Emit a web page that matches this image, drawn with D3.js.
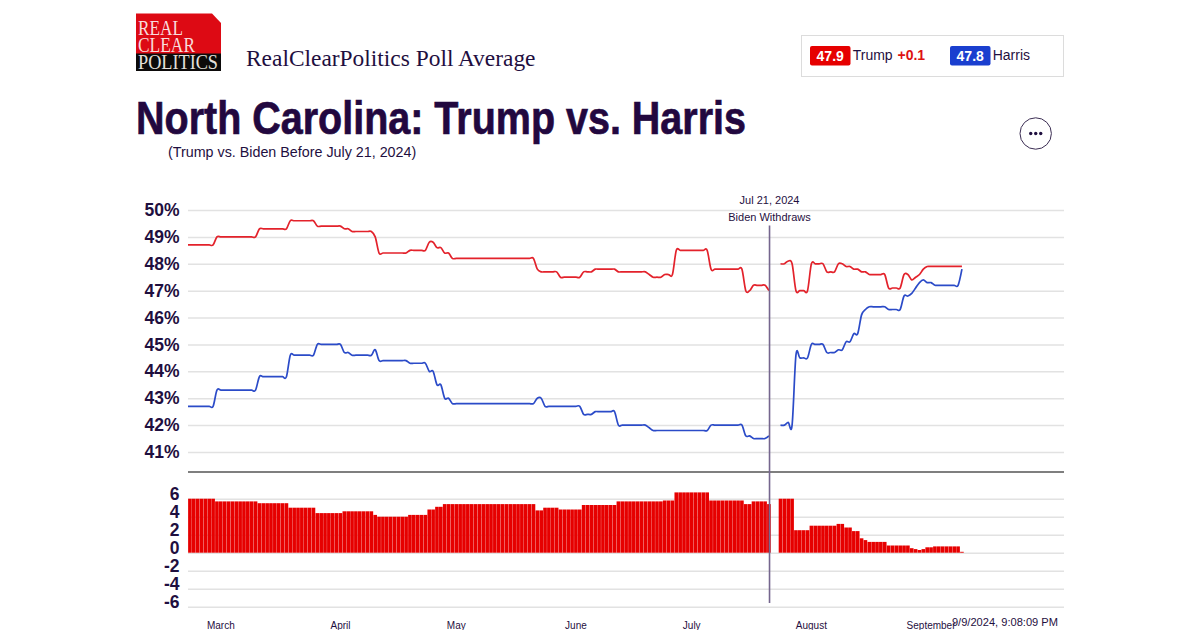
<!DOCTYPE html>
<html>
<head>
<meta charset="utf-8">
<script src="https://cdn.jsdelivr.net/npm/d3@7"></script>
<style>
html,body{margin:0;padding:0;background:#fff;overflow:hidden}
svg{display:block}
text{font-family:"Liberation Sans",Arial,sans-serif;fill:#1f0f3f}
</style>
</head>
<body>
<svg id="c" width="1200" height="630"></svg>
<script>
const firstDate = "2024-02-22";
const lastDate = "2024-09-09";
const monthTicks = ["2024-03-01","2024-04-01","2024-05-01","2024-06-01","2024-07-01","2024-08-01","2024-09-01"];
const pctTicks = [41,42,43,44,45,46,47,48,49,50];
const spreadTicks = [-6,-4,-2,0,2,4,6];

const trump = [
48.7,48.7,48.7,48.7,48.7,48.7,48.7,
49.0,49.0,49.0,49.0,49.0,49.0,49.0,49.0,49.0,49.0,49.0,
49.3,49.3,49.3,49.3,49.3,49.3,49.3,49.3,
49.6,49.6,49.6,49.6,49.6,49.6,49.6,
49.4,49.4,49.4,49.4,49.4,49.4,49.4,
49.3,49.3,
49.2,49.2,49.2,49.2,49.2,49.2,
49.0,
48.4,48.4,48.4,48.4,48.4,48.4,48.4,48.4,
48.5,48.5,48.5,48.5,48.5,
48.8,48.8,
48.6,48.6,
48.4,48.4,
48.2,48.2,48.2,48.2,48.2,48.2,48.2,48.2,48.2,48.2,48.2,48.2,48.2,48.2,48.2,48.2,48.2,48.2,48.2,48.2,48.2,48.2,
47.8,
47.7,47.7,47.7,47.7,47.7,
47.5,47.5,47.5,47.5,47.5,47.5,
47.7,47.7,47.7,
47.8,47.8,47.8,47.8,47.8,47.8,
47.7,47.7,47.7,47.7,47.7,47.7,47.7,47.7,
47.6,
47.5,47.5,47.5,
47.6,47.6,47.6,
48.5,48.5,48.5,48.5,48.5,48.5,48.5,48.5,48.5,
47.8,47.8,47.8,47.8,47.8,47.8,47.8,47.8,47.8,
47.0,47.0,
47.2,47.2,47.2,47.2,
47.0,
null,null,
48.0,48.0,48.1,48.0,
47.0,47.0,47.0,47.0,
48.0,48.0,48.0,48.0,
47.7,47.7,47.7,
48.0,48.0,
47.9,47.9,
47.8,47.8,
47.7,47.7,
47.6,47.6,47.6,47.6,47.6,
47.1,47.1,47.1,47.1,
47.6,47.6,
47.4,47.5,47.6,47.8,
47.9,47.9,47.9,47.9,47.9,47.9,47.9,47.9,47.9,47.9
];

const harris = [
42.7,42.7,42.7,42.7,42.7,42.7,42.7,
43.3,43.3,43.3,43.3,43.3,43.3,43.3,43.3,43.3,43.3,43.3,
43.8,43.8,43.8,43.8,43.8,43.8,43.8,43.8,
44.6,44.6,44.6,44.6,44.6,44.6,44.6,
45.0,45.0,45.0,45.0,45.0,45.0,45.0,
44.7,44.7,
44.6,44.6,44.6,44.6,44.6,44.6,
44.8,
44.4,44.4,44.4,44.4,44.4,44.4,44.4,44.4,
44.3,44.3,44.3,44.3,44.3,
44.0,44.0,
43.5,43.5,
43.0,43.0,
42.8,42.8,42.8,42.8,42.8,42.8,42.8,42.8,42.8,42.8,42.8,42.8,42.8,42.8,42.8,42.8,42.8,42.8,42.8,42.8,42.8,42.8,
43.0,43.0,
42.7,42.7,42.7,42.7,42.7,42.7,42.7,42.7,42.7,42.7,
42.4,42.4,42.4,
42.5,42.5,42.5,42.5,42.5,42.5,
42.0,42.0,42.0,42.0,42.0,42.0,42.0,42.0,
41.9,
41.8,41.8,41.8,41.8,41.8,41.8,41.8,41.8,41.8,41.8,41.8,41.8,41.8,41.8,41.8,
42.0,42.0,42.0,42.0,42.0,42.0,42.0,42.0,42.0,
41.6,41.6,
41.5,41.5,41.5,41.5,
41.6,
null,null,
42.0,42.0,42.1,42.0,
44.6,44.5,44.5,44.5,
45.0,45.0,45.0,45.0,
44.7,44.7,44.7,
44.8,44.8,
45.1,45.1,
45.4,45.4,
46.1,46.3,
46.4,46.4,46.4,46.4,46.4,
46.3,46.3,46.3,46.3,
46.8,46.8,
46.9,47.1,47.3,47.4,
47.3,47.3,
47.2,47.2,47.2,47.2,47.2,47.2,47.2,
47.8
];

const spread = [
6.0,6.0,6.0,6.0,6.0,6.0,6.0,
5.7,5.7,5.7,5.7,5.7,5.7,5.7,5.7,5.7,5.7,5.7,
5.5,5.5,5.5,5.5,5.5,5.5,5.5,5.5,
5.0,5.0,5.0,5.0,5.0,5.0,5.0,
4.4,4.4,4.4,4.4,4.4,4.4,4.4,
4.6,4.6,4.6,4.6,4.6,4.6,4.6,4.6,
4.2,
4.0,4.0,4.0,4.0,4.0,4.0,4.0,4.0,
4.2,4.2,4.2,4.2,4.2,
4.8,4.8,
5.1,5.1,
5.4,5.4,5.4,5.4,5.4,5.4,5.4,5.4,5.4,5.4,5.4,5.4,5.4,5.4,5.4,5.4,5.4,5.4,5.4,5.4,5.4,5.4,5.4,5.4,
4.7,4.7,
5.0,5.0,5.0,5.0,
4.8,4.8,4.8,4.8,4.8,4.8,
5.3,5.3,5.3,5.3,5.3,5.3,5.3,5.3,5.3,
5.7,5.7,5.7,5.7,5.7,5.7,5.7,5.7,5.7,5.7,5.7,5.7,
5.8,5.8,5.8,
6.7,6.7,6.7,6.7,6.7,6.7,6.7,6.7,6.7,
5.8,5.8,5.8,5.8,5.8,5.8,5.8,5.8,5.8,
5.4,5.4,
5.7,5.7,5.7,5.7,
5.4,
null,null,
6.0,6.0,6.0,6.0,
2.5,2.5,2.5,2.5,
3.0,3.0,3.0,3.0,3.0,3.0,3.0,
3.2,3.2,
2.8,2.8,
2.4,2.4,
1.6,1.4,
1.2,1.2,1.2,1.2,1.2,
0.8,0.8,0.8,0.8,0.8,0.8,
0.5,0.4,0.3,0.4,
0.6,0.6,
0.7,0.7,0.7,0.7,0.7,0.7,0.7,
0.1
];

const INK = "#1f0f3f";
const RED = "#e60000";
const svg = d3.select("#c");
const fmtKey = d3.timeFormat("%Y-%m-%d");
const parseKey = d3.timeParse("%Y-%m-%d");
const dates = d3.timeDay.range(parseKey(firstDate), d3.timeDay.offset(parseKey(lastDate), 1)).map(fmtKey);

const x = d3.scaleBand().domain(dates).range([188, 963.86]).paddingInner(0.06).paddingOuter(0.03);
const xc = k => x(k) + x.bandwidth() / 2;
const xLine = k => k === dates[0] ? x.range()[0] : xc(k);
const yMain = d3.scaleLinear().domain([41, 50]).range([452, 210]);
const ySpread = d3.scaleLinear().domain([-6, 6]).range([606.7, 498.7]);
const gridRight = 1064, gridLeft = 188;

/* ---------- header ---------- */
const logo = svg.append("g");
logo.append("path").attr("d", "M136 13.5H212L221 23V54H136Z").attr("fill", "#dd0a14");
logo.append("rect").attr("x", 136).attr("y", 53.5).attr("width", 85).attr("height", 17.5).attr("fill", "#0c0a0a");
const logoText = logo.append("text").attr("aria-label", "Real Clear Politics")
  .style("font-family", "'Liberation Serif',serif").style("font-size", "20px");
const logoLine = (t, y, len, col) => logoText.append("tspan").text(t).attr("x", 138).attr("y", y)
  .attr("textLength", len).attr("lengthAdjust", "spacingAndGlyphs").style("fill", col);
logoLine("REAL", 35, 45, "#f8dcdc");
logoLine("CLEAR", 52, 57, "#f8dcdc");
logoLine("POLITICS", 68.5, 80, "#e4e0dc");

svg.append("text").text("RealClearPolitics Poll Average").attr("x", 246).attr("y", 66)
  .attr("textLength", 289.5).attr("lengthAdjust", "spacingAndGlyphs")
  .style("font-family", "'Liberation Serif',serif").style("font-size", "22.5px");

svg.append("text").text("North Carolina: Trump vs. Harris").attr("x", 136).attr("y", 134)
  .attr("textLength", 610).attr("lengthAdjust", "spacingAndGlyphs")
  .style("font-size", "47px").style("font-weight", 700).style("fill", "#22083f")
  .style("stroke", "#22083f").style("stroke-width", 0.7);

svg.append("text").text("(Trump vs. Biden Before July 21, 2024)").attr("x", 168).attr("y", 157)
  .style("font-size", "14.3px");

/* ---------- legend ---------- */
svg.append("rect").attr("x", 801.5).attr("y", 35.5).attr("width", 262).attr("height", 41)
  .attr("fill", "#fff").attr("stroke", "#dcdcdc");
const badge = (bx, col, val) => {
  svg.append("rect").attr("x", bx).attr("y", 46).attr("width", 40.5).attr("height", 19.5).attr("rx", 2).attr("fill", col);
  svg.append("text").text(val).attr("x", bx + 20.2).attr("y", 60.8).attr("text-anchor", "middle")
    .style("font-size", "14px").style("font-weight", 700).style("fill", "#fff");
};
badge(810, "#e60000", trump[trump.length - 1].toFixed(1));
badge(950, "#1a3fcf", harris[harris.length - 1].toFixed(1));
svg.append("text").text("Trump").attr("x", 852.7).attr("y", 60).style("font-size", "14px");
svg.append("text").text("+0.1").attr("x", 897.5).attr("y", 60).style("font-size", "14px").style("font-weight", 700).style("fill", "#dd1111");
svg.append("text").text("Harris").attr("x", 992.7).attr("y", 60).style("font-size", "14px");

/* ---------- menu button ---------- */
svg.append("circle").attr("cx", 1035.7).attr("cy", 133.5).attr("r", 15.7).attr("fill", "#fff").attr("stroke", "#3a2c52").attr("stroke-width", 1);
[-5, 0, 5].forEach(d => svg.append("circle").attr("cx", 1035.7 + d).attr("cy", 133.5).attr("r", 1.7).attr("fill", "#1f0f3f"));

/* ---------- axes ---------- */
const styleAxis = (g, size) => {
  g.select(".domain").remove();
  g.selectAll(".tick line").attr("stroke", "#e2e2e2").attr("stroke-width", 1.5).attr("x1", 0).attr("x2", gridRight - gridLeft);
  g.selectAll(".tick text").style("font-size", size).style("font-weight", 700)
    .style("font-family", "'Liberation Sans',Arial,sans-serif").attr("fill", INK).style("fill", INK);
};
const axMain = svg.append("g").attr("transform", `translate(${gridLeft},0)`)
  .call(d3.axisLeft(yMain).tickValues(pctTicks).tickSize(0).tickPadding(8.5).tickFormat(d => d + "%"));
styleAxis(axMain, "17.5px");

const axSpread = svg.append("g").attr("transform", `translate(${gridLeft},0)`)
  .call(d3.axisLeft(ySpread).tickValues(spreadTicks).tickSize(0).tickPadding(8.5).tickFormat(d => d));
styleAxis(axSpread, "17.5px");
axSpread.selectAll(".tick text").attr("y", -4.6);

const axMonth = svg.append("g").attr("transform", "translate(0,619)")
  .call(d3.axisBottom(x).tickValues(monthTicks).tickSize(0).tickPadding(3)
    .tickFormat(k => d3.timeFormat("%B")(parseKey(k))));
axMonth.select(".domain").remove();
axMonth.selectAll(".tick text").style("font-size", "10px").style("font-family", "'Liberation Sans',Arial,sans-serif").style("fill", INK);

/* ---------- bars ---------- */
const spreadRows = dates.map((k, i) => ({ k, v: spread[i] })).filter(d => d.v != null);
svg.append("g").selectAll("rect").data(spreadRows).join("rect")
  .attr("x", d => x(d.k)).attr("width", x.bandwidth())
  .attr("y", d => ySpread(d.v)).attr("height", d => ySpread(0) - ySpread(d.v))
  .attr("fill", RED);

/* ---------- lines ---------- */
const line = d3.line().defined(d => d.v != null).x(d => xLine(d.k)).y(d => yMain(d.v)).curve(d3.curveCatmullRom.alpha(0));
const drawLine = (vals, col) => svg.append("path")
  .datum(dates.map((k, i) => ({ k, v: vals[i] })))
  .attr("d", line).attr("fill", "none").attr("stroke", col).attr("stroke-width", 1.7).attr("stroke-linejoin", "round");
drawLine(trump, "#e3222b");
drawLine(harris, "#2b4bc8");

/* ---------- separator + annotation ---------- */
svg.append("line").attr("x1", gridLeft).attr("x2", gridRight).attr("y1", 472).attr("y2", 472).attr("stroke", "#555").attr("stroke-width", 1.5);
const xEvent = xc("2024-07-21") + 0.6;
svg.append("line").attr("x1", xEvent).attr("x2", xEvent).attr("y1", 225.5).attr("y2", 603).attr("stroke", "#75668e").attr("stroke-width", 1.6);
svg.append("text").text("Jul 21, 2024").attr("x", xEvent).attr("y", 203.5).attr("text-anchor", "middle").style("font-size", "11px");
svg.append("text").text("Biden Withdraws").attr("x", xEvent).attr("y", 220.5).attr("text-anchor", "middle").style("font-size", "11px");

/* ---------- timestamp ---------- */
svg.append("text").text("9/9/2024, 9:08:09 PM").attr("x", 1058).attr("y", 625.5).attr("text-anchor", "end").style("font-size", "11.1px");
</script>
</body>
</html>
